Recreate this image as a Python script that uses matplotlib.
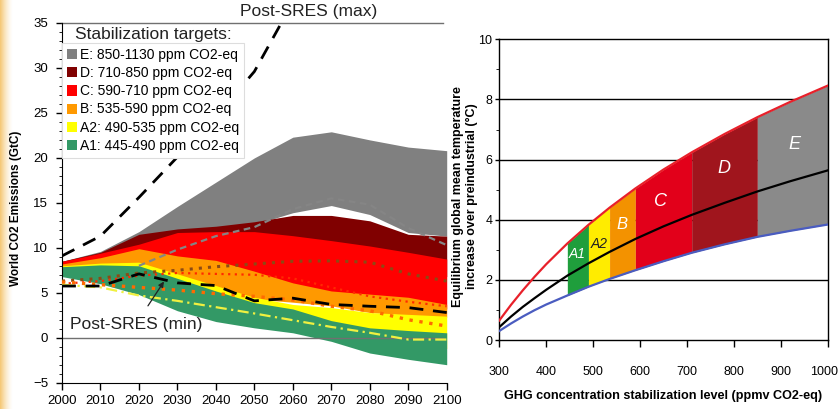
import numpy as np
import matplotlib.pyplot as plt
from matplotlib.patches import Patch
from matplotlib.ticker import MultipleLocator
from matplotlib.transforms import ScaledTranslation

plt.rcParams['font.family'] = ['Liberation Sans', 'DejaVu Sans']
NARROW = ['Liberation Sans Narrow', 'Liberation Sans', 'DejaVu Sans']

# ---- emission pathways (GtC) ----
years = [2000, 2010, 2020, 2030, 2040, 2050, 2060, 2070, 2080, 2090, 2100]

e_hi = [8.5, 9.6, 11.8, 14.6, 17.3, 20.0, 22.3, 22.9, 22.0, 21.2, 20.8]
e_lo = [8.3, 9.3, 10.4, 11.5, 12.0, 12.6, 13.9, 14.7, 13.7, 11.7, 11.3]
d_hi = [8.5, 9.5, 11.5, 12.1, 12.4, 12.9, 13.6, 13.6, 13.0, 11.5, 11.3]
d_lo = [8.0, 8.8, 9.5, 9.5, 9.3, 9.0, 8.6, 8.2, 7.8, 7.3, 6.8]
c_hi = [8.5, 9.4, 10.4, 11.7, 11.8, 11.8, 11.35, 10.8, 10.2, 9.5, 8.75]
c_lo = [7.5, 8.0, 8.6, 8.0, 7.2, 6.0, 5.0, 4.4, 4.0, 3.7, 3.2]
b_hi = [8.2, 8.9, 9.9, 9.1, 8.6, 7.4, 6.1, 5.2, 4.85, 4.5, 3.7]
b_lo = [7.2, 7.4, 7.6, 6.5, 5.3, 4.3, 3.95, 3.55, 2.8, 2.5, 2.3]
a2_hi = [8.0, 8.3, 8.4, 7.1, 5.8, 4.5, 3.7, 3.35, 2.8, 2.6, 2.4]
a2_lo = [7.2, 6.8, 6.2, 4.5, 3.2, 2.2, 1.5, 0.6, -0.3, -0.8, -1.2]
a1_hi = [7.9, 8.1, 8.0, 6.6, 5.2, 3.9, 3.2, 1.9, 1.1, 0.8, 0.55]
a1_lo = [6.8, 6.0, 4.8, 3.0, 1.8, 1.1, 0.55, -0.4, -1.7, -2.4, -3.0]

sres_max_years = [2000, 2010, 2020, 2030, 2040, 2050, 2060]
sres_max = [9.1, 11.3, 15.6, 20.1, 24.6, 29.6, 37.3]
sres_min = [5.75, 5.75, 7.1, 6.1, 5.8, 4.1, 4.4, 3.7, 3.5, 3.35, 2.8]

gray_years = [2020, 2030, 2040, 2050, 2060, 2070, 2080, 2090, 2100]
gray_path = [8.0, 9.8, 11.3, 12.3, 14.3, 15.5, 14.8, 12.2, 10.3]
brown_path = [6.3, 6.6, 7.2, 7.5, 7.9, 8.2, 8.5, 8.55, 8.4, 7.1, 6.3]
red_path = [6.0, 6.3, 6.9, 7.2, 7.1, 7.0, 6.6, 5.6, 4.6, 4.0, 3.5]
orange_path = [6.2, 5.9, 5.6, 5.3, 4.9, 4.6, 4.2, 3.5, 3.0, 2.0, 1.3]
yellow_path = [5.9, 5.6, 4.7, 4.1, 3.4, 2.7, 1.95, 1.2, 0.55, -0.2, -0.2]

cat_labels = ['E: 850-1130 ppm CO2-eq', 'D: 710-850 ppm CO2-eq',
              'C: 590-710 ppm CO2-eq', 'B: 535-590 ppm CO2-eq',
              'A2: 490-535 ppm CO2-eq', 'A1: 445-490 ppm CO2-eq']
cat_colors = ['#808080', '#800000', '#ff0000', '#ff9900', '#ffff00', '#339966']

# ---- equilibrium warming vs. concentration ----
conc = [300, 325, 350, 375, 400, 445, 490, 535, 590, 650, 710, 780, 850, 920, 1000]
t_high = [0.65, 1.17, 1.65, 2.10, 2.52, 3.21, 3.83, 4.40, 5.04, 5.67, 6.24, 6.85, 7.41, 7.92, 8.46]
t_best = [0.43, 0.78, 1.10, 1.39, 1.67, 2.14, 2.55, 2.93, 3.36, 3.78, 4.16, 4.56, 4.94, 5.28, 5.64]
t_low = [0.30, 0.55, 0.78, 0.99, 1.18, 1.48, 1.77, 2.03, 2.32, 2.62, 2.90, 3.18, 3.43, 3.63, 3.84]

band_names = ['A1', 'A2', 'B', 'C', 'D', 'E']
band_edges = [445, 490, 535, 590, 710, 850, 1000]
band_colors = ['#1f9e3c', '#ffec00', '#f39200', '#e2001a', '#a0151d', '#8a8a8a']
band_text = ['white', '#222222', 'white', 'white', 'white', 'white']
band_label_pos = [(465, 2.85), (512, 3.2), (561, 3.85), (644, 4.6), (778, 5.7), (930, 6.5)]
band_label_size = [10, 10, 12, 13, 13, 13]

fig = plt.figure(figsize=(8.4, 4.09), dpi=100)

# soft orange strip at the left edge
strip = fig.add_axes([0, 0, 0.015, 1])
grad = np.linspace(0, 1, 50)
c0 = np.array([0.96, 0.78, 0.45])
w = (1 - grad[:, None]) ** 1.5
rgb = c0[None, :] * w + np.ones(3)[None, :] * (1 - w)
strip.imshow(rgb[None, :, :], aspect='auto', extent=[0, 1, 0, 1])
strip.axis('off')

# ================= left panel =================
ax = fig.add_axes([0.0738, 0.0643, 0.458, 0.8795])
ranges = [(e_lo, e_hi), (d_lo, d_hi), (c_lo, c_hi), (b_lo, b_hi), (a2_lo, a2_hi), (a1_lo, a1_hi)]
for (lo, hi), col in zip(ranges, cat_colors):
    ax.fill_between(years, lo, hi, color=col, lw=0, zorder=1)

ax.plot([2000, 2099], [0, 0], color='#707070', lw=1.0, zorder=2)
ax.plot([2000, 2099], [35, 35], color='#707070', lw=1.0, zorder=2, clip_on=False)

ax.plot(gray_years, gray_path, color='#858585', lw=1.6, dashes=(3, 2), zorder=3)
ax.plot(years, brown_path, color='#8c4a14', lw=2.2, dashes=(1, 2), zorder=3)
ax.plot(years, red_path, color='#ff2a00', lw=1.6, dashes=(1, 2), zorder=3)
ax.plot(years, orange_path, color='#ff6a00', lw=2.4, dashes=(1, 2), zorder=3)
ax.plot(years, yellow_path, color='#f0f040', lw=1.6, dashes=(5, 2, 1, 2), zorder=3)
ax.plot(years, sres_min, color='black', lw=2.0, dashes=(5, 3.5), zorder=4)
ax.plot(sres_max_years, sres_max, color='black', lw=2.0, dashes=(5, 3.5), zorder=4)

ax.text(2064, 36.3, 'Post-SRES (max)', ha='center', va='center', fontsize=12.5,
        color='#222222', clip_on=False)
ax.annotate('Post-SRES (min)', xy=(2026.5, 6.25), xytext=(2019.2, 1.5),
            ha='center', va='center', fontsize=12.5, color='#222222',
            arrowprops=dict(arrowstyle='-|>', color='#222222', lw=0.9,
                            mutation_scale=8, shrinkA=7, shrinkB=0),
            zorder=5)

ax.set_xlim(2000, 2100)
ax.set_ylim(-5, 35)
ax.set_xticks(range(2000, 2101, 10))
ax.set_yticks(range(-5, 36, 5))
ax.yaxis.set_minor_locator(MultipleLocator(1))
ax.tick_params(axis='both', direction='out', labelsize=9.5, colors='black', width=1)
ax.tick_params(axis='y', which='major', length=4, pad=6)
ax.tick_params(axis='y', which='minor', length=2)
ax.tick_params(axis='x', length=5, pad=4)
for s in ['top', 'right']:
    ax.spines[s].set_visible(False)

handles = [Patch(facecolor=c, edgecolor='none') for c in cat_colors]
leg = ax.legend(handles, cat_labels, loc='upper left', bbox_to_anchor=(0.0, 0.944),
                borderaxespad=0, fontsize=10, frameon=True, fancybox=False,
                framealpha=1, handlelength=0.75, handleheight=0.75,
                handletextpad=0.2, labelspacing=0.3, borderpad=0.35)
leg.get_frame().set_edgecolor('#dddddd')
leg.get_frame().set_linewidth(0.8)
leg.set_zorder(6)
ax.text(0.034, 0.967, 'Stabilization targets:', transform=ax.transAxes,
        fontsize=12.5, va='center', ha='left', color='#222222', zorder=7)

fig.text(0.019, 0.49, 'World CO2 Emissions (GtC)', rotation=90, ha='center',
         va='center', fontsize=8.5, fontweight='bold', family=NARROW)

# ================= right panel =================
bx = fig.add_axes([0.5944, 0.1687, 0.391, 0.7352])
bx.hlines([2, 4, 6, 8], 300, 1000, color='black', lw=1.0, zorder=0.5)

conc_a = np.array(conc)
for i, col in enumerate(band_colors):
    sel = (conc_a >= band_edges[i]) & (conc_a <= band_edges[i + 1])
    bx.fill_between(conc_a[sel], np.array(t_low)[sel], np.array(t_high)[sel],
                    color=col, lw=0, zorder=1)
    bx.text(*band_label_pos[i], band_names[i], color=band_text[i],
            fontsize=band_label_size[i], style='italic', ha='center',
            va='center', family=NARROW, zorder=4)

bx.plot(conc, t_high, color='#e8202a', lw=1.6, zorder=3)
bx.plot(conc, t_best, color='black', lw=1.6, zorder=3)
bx.plot(conc, t_low, color='#4a5cc0', lw=1.6, zorder=3)

bx.set_xlim(300, 1000)
bx.set_ylim(0, 10)
bx.set_xticks(range(300, 1001, 100))
bx.set_yticks(range(0, 11, 2))
bx.yaxis.set_minor_locator(MultipleLocator(1))
bx.tick_params(axis='both', direction='out', labelsize=9, width=1)
bx.tick_params(axis='x', length=5, pad=14)
bx.tick_params(axis='y', which='major', length=3, pad=2)
bx.tick_params(axis='y', which='minor', length=2.5)
for lab in bx.get_xticklabels() + bx.get_yticklabels():
    lab.set_family(NARROW)
# keep the last x label inside the figure
last = bx.get_xticklabels()[-1]
last.set_transform(last.get_transform() + ScaledTranslation(-3 / 72, 0, fig.dpi_scale_trans))
for s in bx.spines.values():
    s.set_linewidth(1.0)

bx.set_xlabel('GHG concentration stabilization level (ppmv CO2-eq)',
              fontsize=9.1, fontweight='bold', labelpad=8)
fig.text(0.5536, 0.52, 'Equilibrium global mean temperature\nincrease over preindustrial (°C)',
         rotation=90, ha='center', va='center', fontsize=9, fontweight='bold',
         linespacing=1.25)

fig.savefig('out.png', dpi=100)
